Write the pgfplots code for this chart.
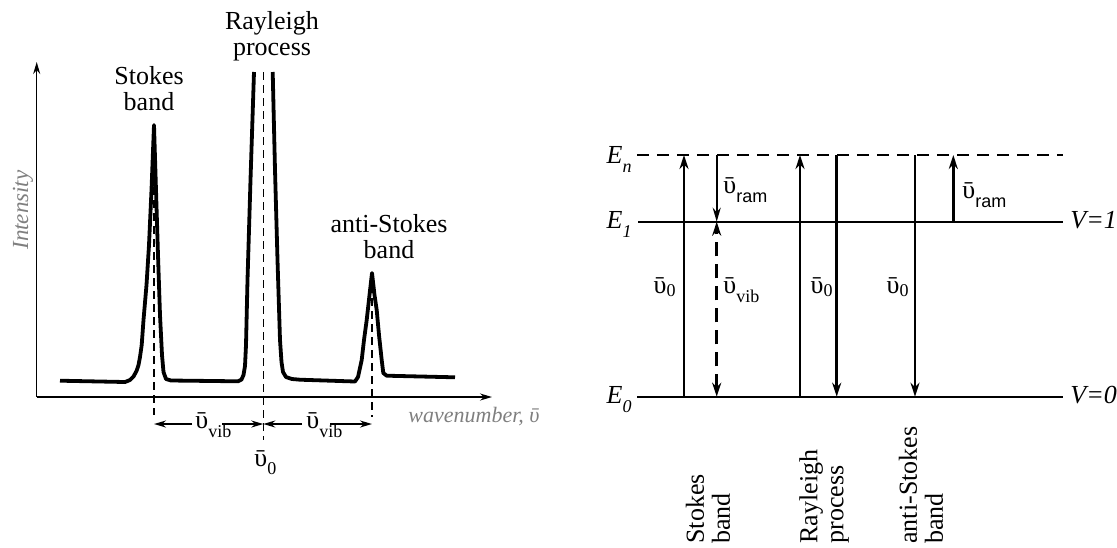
\documentclass[border=0pt]{standalone}
\usepackage{pgfplots}
\pgfplotsset{compat=1.18}
\usepackage{fontspec}
\setmainfont{Liberation Serif}
\newfontfamily\sansf{Liberation Sans}
\usetikzlibrary{arrows.meta}
\definecolor{labgray}{HTML}{7F7F7F}

% wavenumber symbol and lowered subscripts
\newcommand\ub{ῡ}
\newcommand\sub[2][4.5pt]{\raisebox{-#1}{\fontsize{9}{10}\selectfont #2}}

% spectrum (x = position, y = drawn height, y axis pointing down)
\pgfplotstableread{
x y
60 380.7
100 381.5
125 382
130 380
133.5 376.5
136.5 371
138.5 365
140 357
141.7 345
143.5 320
146.5 285
149 245
151.5 190
154 125
156 190
158 255
160 315
162 355
163.5 372
166 379
171 380.5
238 381.3
241.5 379.5
243.5 375
245 366
246 345
247.5 280
250.5 180
254 72
}\stokesleft
\pgfplotstableread{
x y
272.7 72
275 170
277.5 260
280 340
281.5 362
283 372
286 377
292 379
300 379.7
355 381.5
358 377
361.7 360
364 340
366.7 320
369.5 295
372 273
374.5 295
376.7 310
379 335
381.7 360
383.3 373
386.7 375.7
455 377.3
}\antiright

\begin{document}
\begin{tikzpicture}[every node/.append style={font=\fontsize{13}{13}\selectfont}]
\begin{axis}[name=main, scale only axis, width=558.5pt, height=273.5pt,
  xmin=0, xmax=1117, ymin=0, ymax=547, y dir=reverse, hide axis, clip=false]

% ---- spectrum axes
\addplot[black, line width=0.75pt, -{Stealth[length=6pt,width=3.5pt]}] coordinates {(36.7,397) (492,397)};
\addplot[black, line width=0.75pt, -{Stealth[length=6pt,width=3.5pt]}] coordinates {(36.7,397) (36.7,62)};

% ---- peak centre guides
\addplot[black, line width=0.65pt, dash pattern=on 4pt off 2.5pt] coordinates {(154,135) (154,415)};
\addplot[black, line width=0.65pt, dash pattern=on 4pt off 2.5pt] coordinates {(263.3,72) (263.3,440)};
\addplot[black, line width=0.65pt, dash pattern=on 4pt off 2.5pt] coordinates {(372,285) (372,417)};

% ---- spectrum
\addplot[black, line width=1.9pt, line join=round, line cap=butt] table[x=x,y=y] {\stokesleft};
\addplot[black, line width=1.9pt, line join=round, line cap=butt] table[x=x,y=y] {\antiright};

% ---- shift arrows
\addplot[black, line width=0.85pt, -{Stealth[length=6pt,width=3.5pt]}] coordinates {(192,424) (154,424)};
\addplot[black, line width=0.85pt, -{Stealth[length=6pt,width=3.5pt]}] coordinates {(222,424) (263.3,424)};
\addplot[black, line width=0.85pt, -{Stealth[length=6pt,width=3.5pt]}] coordinates {(302,424) (263.3,424)};
\addplot[black, line width=0.85pt, -{Stealth[length=6pt,width=3.5pt]}] coordinates {(330,424) (372,424)};

\node[anchor=base west, inner sep=0] at (195,428) {\ub\sub{vib}};
\node[anchor=base west, inner sep=0] at (306,428) {\ub\sub{vib}};
\node[anchor=base west, inner sep=0] at (254,466) {\ub\sub[4pt]{0}};

\node[anchor=base west, inner sep=0, text=labgray, font=\fontsize{11}{11}\selectfont] at (408,422) {\textit{wavenumber, \ub}};
\node[anchor=base, rotate=90, inner sep=0, text=labgray, font=\fontsize{11.5}{11.5}\selectfont] at (28,210) {\textit{Intensity}};

\node[align=center, anchor=north, inner sep=0] at (149,66) {Stokes\\band};
\node[align=center, anchor=north, inner sep=0] at (272,11) {Rayleigh\\process};
\node[align=center, anchor=north, inner sep=0] at (389,214) {anti-Stokes\\band};

% ---- energy levels
\addplot[black, line width=0.7pt, dash pattern=on 6pt off 4pt] coordinates {(637,155) (1063,155)};
\addplot[black, line width=0.9pt] coordinates {(638,221.7) (1063,221.7)};
\addplot[black, line width=0.9pt] coordinates {(637,396.7) (1063,396.7)};

\node[anchor=base east, inner sep=0] at (632,163) {\textit{E}\sub{\textit{n}}};
\node[anchor=base east, inner sep=0] at (632,228) {\textit{E}\sub{\textit{1}}};
\node[anchor=base east, inner sep=0] at (632,403) {\textit{E}\sub{\textit{0}}};
\node[anchor=base west, inner sep=0] at (1070,228) {\textit{V=1}};
\node[anchor=base west, inner sep=0] at (1070,403) {\textit{V=0}};

% ---- transitions
\addplot[black, line width=1.45pt, -{Stealth[length=7pt,width=4.5pt]}] coordinates {(684,396.7) (684,155)};
\addplot[black, line width=1.0pt, -{Stealth[length=7pt,width=4pt]}] coordinates {(716.7,155) (716.7,221.7)};
\addplot[black, line width=1.5pt, dash pattern=on 7pt off 4pt, {Stealth[length=7pt,width=4.5pt]}-{Stealth[length=7pt,width=4.5pt]}] coordinates {(716.7,396.7) (716.7,221.7)};
\addplot[black, line width=1.45pt, -{Stealth[length=7pt,width=4.5pt]}] coordinates {(800,396.7) (800,155)};
\addplot[black, line width=1.45pt, -{Stealth[length=7pt,width=4.5pt]}] coordinates {(836.7,155) (836.7,396.7)};
\addplot[black, line width=1.45pt, -{Stealth[length=7pt,width=4.5pt]}] coordinates {(915,155) (915,396.7)};
\addplot[black, line width=1.45pt, -{Stealth[length=7pt,width=4.5pt]}] coordinates {(953.3,221.7) (953.3,155)};

\node[anchor=base east, inner sep=0] at (676,293) {\ub\sub[1.5pt]{0}};
\node[anchor=base west, inner sep=0] at (723,293) {\ub\sub{vib}};
\node[anchor=base east, inner sep=0] at (833,293) {\ub\sub[1.5pt]{0}};
\node[anchor=base east, inner sep=0] at (909,293) {\ub\sub[1.5pt]{0}};
\node[anchor=base west, inner sep=0] at (723,193) {\ub\sub{\sansf ram}};
\node[anchor=base west, inner sep=0] at (962,198) {\ub\sub{\sansf ram}};

% ---- process names
\node[rotate=90, anchor=west, align=left, inner sep=0] at (708,544) {Stokes\\band};
\node[rotate=90, anchor=west, align=left, inner sep=0] at (824,544) {Rayleigh\\process};
\node[rotate=90, anchor=west, align=left, inner sep=0] at (921,544) {anti-Stokes\\band};

\end{axis}
\pgfresetboundingbox
\useasboundingbox (main.south west) rectangle (main.north east);
\end{tikzpicture}
\end{document}
